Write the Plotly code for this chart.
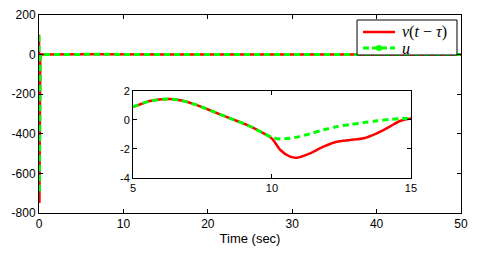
import plotly.graph_objects as go

# ---- data ----
time = [0, 0.05, 0.15, 0.5, 1, 2, 3, 4, 5, 5.6, 6.27, 6.7, 7.3, 7.9, 8.5, 9.1, 9.7, 10.0,
        10.3, 10.65, 10.9, 11.37, 11.85, 12.33, 12.81, 13.3, 13.77, 14.24, 14.6, 15,
        20, 25, 30, 35, 40, 45, 50]
v_delay = [100, -750, 0, 0.3, 0.5, 0.7, 0.8, 0.85, 0.92, 1.31, 1.45, 1.36, 1.03, 0.57, 0.11, -0.34, -0.92, -1.28,
           -2.07, -2.53, -2.6, -2.3, -1.84, -1.5, -1.38, -1.26, -0.92, -0.46, -0.07, 0.1,
           0.05, -0.1, 0.1, 0.0, -0.05, 0.03, 0.0]
u = [96, -700, 0, 0.3, 0.5, 0.7, 0.8, 0.85, 0.92, 1.31, 1.45, 1.36, 1.03, 0.57, 0.11, -0.34, -0.92, -1.2,
     -1.31, -1.26, -1.18, -0.95, -0.68, -0.46, -0.32, -0.18, -0.06, 0.04, 0.09, 0.1,
     0.02, -0.05, 0.05, 0.0, -0.02, 0.01, 0.0]

main_yticks = [200, 0, -200, -400, -600, -800]
main_yticktext = ["200", "0", "-200", "-400", "-600", "-800"]
main_xticks = [0, 10, 20, 30, 40, 50]
inset_xticks = [5, 10, 15]
inset_yticks = [2, 0, -2, -4]
inset_yticktext = ["2", "0", "-2", "-4"]
legend_labels = ["<i>v</i>(<i>t</i> − <i>τ</i>)", "<i>u</i>"]

RED = "#ff0000"
GREEN = "#00ff00"

fig = go.Figure()
# main plot
fig.add_trace(go.Scatter(x=time, y=v_delay, mode="lines", line=dict(color=RED, width=2.5),
                         showlegend=False, xaxis="x", yaxis="y", name=legend_labels[0]))
fig.add_trace(go.Scatter(x=time, y=u, mode="lines", line=dict(color=GREEN, width=3, dash="6px,4px"),
                         showlegend=False, xaxis="x", yaxis="y", name=legend_labels[1]))
# inset
fig.add_trace(go.Scatter(x=time, y=v_delay, mode="lines", line=dict(color=RED, width=2.5, shape="spline", smoothing=0.8),
                         showlegend=False, xaxis="x2", yaxis="y2", name=legend_labels[0]))
fig.add_trace(go.Scatter(x=time, y=u, mode="lines", line=dict(color=GREEN, width=3, dash="6px,4px", shape="spline", smoothing=0.8),
                         showlegend=False, xaxis="x2", yaxis="y2", name=legend_labels[1]))

# ---- manual legend (paper coordinates) ----
lx0, lx1, ly0, ly1 = 0.7536, 0.9905, 0.798, 0.9747
sx0, sx1 = 0.7678, 0.8436
row_y = [0.9141, 0.8333]
shapes = [
    dict(type="rect", xref="paper", yref="paper", x0=lx0, x1=lx1, y0=ly0, y1=ly1,
         fillcolor="white", line=dict(color="black", width=1), layer="above"),
    dict(type="line", xref="paper", yref="paper", x0=sx0, x1=sx1, y0=row_y[0], y1=row_y[0],
         line=dict(color=RED, width=2.5), layer="above"),
    dict(type="line", xref="paper", yref="paper", x0=sx0, x1=sx1, y0=row_y[1], y1=row_y[1],
         line=dict(color=GREEN, width=3, dash="6px,3px"), layer="above"),
    dict(type="circle", xref="paper", yref="paper", xsizemode="pixel", ysizemode="pixel",
         xanchor=(sx0 + sx1) / 2, yanchor=row_y[1], x0=-3, x1=3, y0=-3, y1=3,
         fillcolor=GREEN, line=dict(color=GREEN, width=0), layer="above"),
]
annotations = [
    dict(xref="paper", yref="paper", x=0.8555, y=row_y[i], xanchor="left", yanchor="middle",
         text=legend_labels[i], showarrow=False,
         font=dict(family="Liberation Serif, Times New Roman", size=16, color="black"))
    for i in range(2)
]

axis_common = dict(showgrid=False, zeroline=False, showline=True, linecolor="black", linewidth=1,
                   mirror="ticks", ticks="inside", ticklen=4, tickcolor="black", automargin=False,
                   tickfont=dict(family="Liberation Sans, Arial", size=12, color="black"))
inset_font = dict(family="Liberation Sans, Arial", size=11, color="black")

fig.update_layout(
    width=481, height=253,
    margin=dict(l=39, r=20, t=15, b=40, autoexpand=False),
    paper_bgcolor="white", plot_bgcolor="white",
    xaxis=dict(domain=[0, 1], range=[0, 50], tickvals=main_xticks,
               title=dict(text="Time (sec)", font=dict(family="Liberation Sans, Arial", size=13, color="black"),
                          standoff=3),
               **axis_common),
    yaxis=dict(domain=[0, 1], range=[-800, 200], tickvals=main_yticks, ticktext=main_yticktext,
               **axis_common),
    xaxis2=dict(domain=[0.2227, 0.8815], range=[5, 15], tickvals=inset_xticks, anchor="y2",
                **{**axis_common, "tickfont": inset_font}),
    yaxis2=dict(domain=[0.1768, 0.6162], range=[-4, 2], tickvals=inset_yticks, ticktext=inset_yticktext,
                anchor="x2",
                **{**axis_common, "tickfont": inset_font}),
    shapes=shapes,
    annotations=annotations,
    showlegend=False,
)

fig.write_html("out.html", config={"displayModeBar": False},
               post_script="document.body.style.margin='0';document.body.style.overflow='hidden';")
